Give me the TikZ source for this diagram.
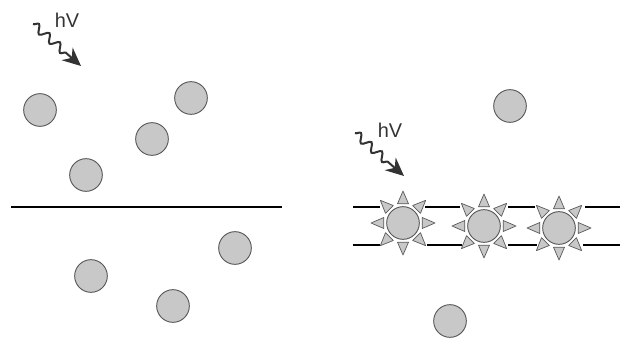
\documentclass[tikz,border=0pt]{standalone}
\usepackage{fontspec}
\setmainfont{Liberation Sans}
\usetikzlibrary{calc,arrows.meta,decorations.pathmorphing}
\definecolor{ballgray}{HTML}{C8C8C8}
\definecolor{rimgray}{HTML}{5A5A5A}
\definecolor{wavegray}{HTML}{333333}

\begin{document}
\begin{tikzpicture}[x=0.03cm,y=-0.03cm,
    ball/.style={circle,fill=ballgray,draw=rimgray,line width=0.8pt,minimum size=0.98cm,inner sep=0pt},
    ray/.style={fill=ballgray,draw=rimgray,line width=0.6pt,line join=round},
    membrane/.style={line width=2.4pt},
    photon/.style={wavegray,line width=1.7pt,decorate,
      decoration={snake,amplitude=0.12cm,segment length=0.42cm,post length=0.45cm},
      -{Stealth[length=0.55cm,width=0.5cm]}},
    light/.style={font=\fontsize{17}{19}\selectfont,text=wavegray}]
  \useasboundingbox (0,0) rectangle (620,341);

  % left side: free molecules and a single layer
  \draw[membrane] (11,207) -- (282,207);
  \node[ball] (a1) at (40,110) {};
  \node[ball] (a2) at (191,98) {};
  \node[ball] (a3) at (152,139) {};
  \node[ball] (a4) at (86,175) {};
  \node[ball] (a5) at (235,248) {};
  \node[ball] (a6) at (91,276) {};
  \node[ball] (a7) at (173,306) {};

  \coordinate (w1) at (33,24);
  \coordinate (h1) at (81,66);
  \draw[photon] (w1) -- (h1);
  \node[light] (hv1) at (67,20) {hV};

  % right side: bilayer with excited molecules
  \foreach \xa/\xb in {353/380,425/460,508/535,585/620}
    \draw[membrane] (\xa,207) -- (\xb,207);
  \foreach \xa/\xb in {353/380,427/462,508/537,583/620}
    \draw[membrane] (\xa,245) -- (\xb,245);

  \node[ball] (b1) at (510,106) {};
  \node[ball] (b2) at (450,321) {};

  \node[ball] (sun1) at (403,223) {};
  \node[ball] (sun2) at (484,226) {};
  \node[ball] (sun3) at (559,228) {};
  \foreach \s in {sun1,sun2,sun3}
    \foreach \a in {0,45,...,315}
      \filldraw[ray] ($(\s)+(\a:32)$) -- ($(\s)+(\a+16:20)$) -- ($(\s)+(\a-16:20)$) -- cycle;

  \coordinate (w2) at (355,133);
  \coordinate (h2) at (404,176);
  \draw[photon] (w2) -- (h2);
  \node[light] (hv2) at (390,130) {hV};
\end{tikzpicture}
\end{document}
